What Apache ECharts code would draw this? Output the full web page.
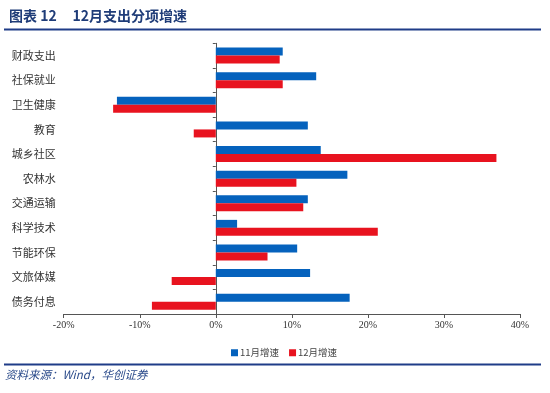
<!DOCTYPE html>
<html><head><meta charset="utf-8">
<script src="https://cdn.jsdelivr.net/npm/echarts@6/dist/echarts.min.js"></script>
<style>html,body{margin:0;padding:0;background:#fff}#c{width:550px;height:393px}</style>
</head><body><div id="c"></div>
<script>
const categories = ['财政支出','社保就业','卫生健康','教育','城乡社区','农林水','交通运输','科学技术','节能环保','文旅体媒','债务付息'];
const nov = [8.8, 13.2, -13.0, 12.1, 13.8, 17.3, 12.1, 2.8, 10.7, 12.4, 17.6];
const dec = [8.4, 8.8, -13.5, -2.9, 36.9, 10.6, 11.5, 21.3, 6.8, -5.8, -8.4];
const seriesNames = ['11月增速','12月增速'];
const xTicks = {min: -20, max: 40, interval: 10};

const chart = echarts.init(document.getElementById('c'));
const serif = '"Noto Sans CJK SC", "DejaVu Serif", serif';
chart.setOption({
  animation: false,
  title: {
    text: '图表 12     12月支出分项增速',
    left: 4, top: 4,
    textStyle: {fontSize: 14, fontWeight: 'bold', color: '#1f3c78', fontFamily: '"Noto Sans CJK SC", serif'}
  },
  graphic: [
    {type: 'line', shape: {x1: 4, y1: 29.5, x2: 541, y2: 29.5}, style: {stroke: '#1f3c88', lineWidth: 2}},
    {type: 'line', shape: {x1: 4, y1: 364.5, x2: 541, y2: 364.5}, style: {stroke: '#1f3c88', lineWidth: 2}},
    {type: 'text', left: 5, top: 369, style: {text: '资料来源：Wind，华创证券', fill: '#2a4a8a', font: 'italic 11.5px "Noto Sans CJK SC", serif'}}
  ],
  legend: {
    data: seriesNames, left: 226, top: 343,
    itemWidth: 7, itemHeight: 7, itemGap: 10, icon: 'rect',
    textStyle: {fontSize: 9.5, color: '#444', fontFamily: serif, padding: [0,0,0,-3]}
  },
  grid: {left: 63.7, right: 30, top: 43.3, bottom: 79},
  xAxis: {
    type: 'value', min: xTicks.min, max: xTicks.max, interval: xTicks.interval,
    splitLine: {show: false},
    axisLine: {show: true, onZero: false, lineStyle: {color: '#555'}},
    axisTick: {show: true, length: 4, lineStyle: {color: '#555'}},
    axisLabel: {formatter: '{value}%', fontSize: 10, color: '#333', fontFamily: '"Liberation Serif", serif', margin: 6}
  },
  yAxis: [
    {
      type: 'category', data: categories, inverse: true,
      axisLine: {show: false, onZero: false}, axisTick: {show: false},
      axisLabel: {fontSize: 11, color: '#333', fontFamily: serif, margin: 8}
    },
    {
      type: 'category', data: categories, inverse: true, position: 'left',
      axisLine: {show: true, onZero: true, lineStyle: {color: '#555'}},
      axisTick: {show: true, length: 3, lineStyle: {color: '#555'}},
      axisLabel: {show: false}
    }
  ],
  series: [
    {name: seriesNames[0], type: 'bar', data: nov, barWidth: 8, barGap: '0%', itemStyle: {color: '#0562bd'}},
    {name: seriesNames[1], type: 'bar', data: dec, barWidth: 8, barGap: '0%', itemStyle: {color: '#e8131f'}}
  ]
});
</script></body></html>
